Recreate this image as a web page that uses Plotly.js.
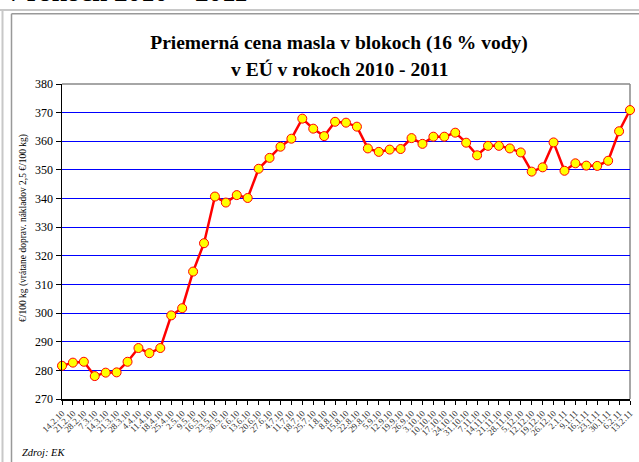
<!DOCTYPE html>
<html>
<head>
<meta charset="utf-8">
<script src="https://cdn.plot.ly/plotly-3.0.1.min.js"></script>
<style>
html,body{margin:0;padding:0;background:#fff;}
#chart{width:639px;height:462px;}
</style>
</head>
<body>
<div id="chart"></div>
<script>
var dates = ["14.2.10","21.2.10","28.2.10","7.3.10","14.3.10","21.3.10","28.3.10","4.4.10","11.4.10","18.4.10","25.4.10","2.5.10","9.5.10","16.5.10","23.5.10","30.5.10","6.6.10","13.6.10","20.6.10","27.6.10","4.7.10","11.7.10","18.7.10","25.7.10","1.8.10","8.8.10","15.8.10","22.8.10","29.8.10","5.9.10","12.9.10","19.9.10","26.9.10","3.10.10","10.10.10","17.10.10","24.10.10","31.10.10","7.11.10","14.11.10","21.11.10","28.11.10","5.12.10","12.12.10","19.12.10","26.12.10","2.1.11","9.1.11","16.1.11","23.1.11","30.1.11","6.2.11","13.2.11"];
var prices = [281.6,282.7,283.0,278.0,279.2,279.3,283.0,287.8,286.0,287.8,299.2,301.7,314.5,324.4,340.7,338.6,341.2,340.2,350.4,354.2,358.1,360.9,367.9,364.4,361.8,366.8,366.5,365.1,357.5,356.3,357.1,357.3,361.1,359.1,361.6,361.6,363.0,359.5,355.1,358.4,358.4,357.5,356.1,349.4,350.9,359.6,349.7,352.3,351.5,351.4,353.2,363.5,370.9];
var yTicks = [270,280,290,300,310,320,330,340,350,360,370,380];

var W = 639, H = 462, L = 62, R = 630, T = 84, B = 399;
function px(x){ return (x - L) / (R - L); }
function py(y){ return (B - y) / (B - T); }

var serif = "'Liberation Serif', 'Times New Roman', serif";

var trace = {
  x: dates,
  y: prices,
  type: "scatter",
  mode: "lines+markers",
  line: {color: "#ff0000", width: 2.5},
  marker: {color: "#ffff00", size: 9, line: {color: "#ff0000", width: 1}},
  cliponaxis: false,
  hoverinfo: "skip"
};

var layout = {
  width: W, height: H,
  margin: {l: L, r: W - R, t: T, b: H - B, pad: 0},
  paper_bgcolor: "#ffffff",
  plot_bgcolor: "#ffffff",
  showlegend: false,
  font: {family: serif, color: "#000"},
  title: {
    text: "<b>Priemerná cena masla v blokoch (16 % vody)</b>",
    font: {family: serif, size: 19.5, color: "#000"},
    xref: "paper", x: px(339), xanchor: "center",
    yref: "container", y: 1 - 42/H, yanchor: "middle"
  },
  xaxis: {
    type: "category",
    range: [0, dates.length - 1],
    autorange: false,
    tickmode: "array",
    tickvals: dates,
    ticktext: dates,
    tickangle: -45,
    tickfont: {family: serif, size: 9, color: "#333"},
    ticks: "outside", ticklen: 4, tickcolor: "#000", tickwidth: 1,
    showline: true, linecolor: "#000", linewidth: 1.5,
    showgrid: false, zeroline: false, fixedrange: true
  },
  yaxis: {
    range: [270, 380],
    autorange: false,
    tickmode: "array",
    tickvals: yTicks,
    ticktext: yTicks.map(String),
    tickfont: {family: serif, size: 12, color: "#000"},
    ticks: "outside", ticklen: 5, tickcolor: "#000", tickwidth: 1,
    showline: true, linecolor: "#000", linewidth: 1.5,
    showgrid: true, gridcolor: "#0000ff", gridwidth: 1,
    zeroline: false, fixedrange: true
  },
  shapes: [
    {type: "line", xref: "paper", yref: "paper", x0: 0, x1: 1, y0: 1, y1: 1, line: {color: "#888", width: 1.5}, layer: "below"},
    {type: "line", xref: "paper", yref: "paper", x0: 1, x1: 1, y0: 0, y1: 1, line: {color: "#888", width: 1.5}, layer: "below"},
    {type: "line", xref: "paper", yref: "paper", x0: px(0), x1: px(W+5), y0: py(10), y1: py(10), line: {color: "#c8c8c8", width: 2}},
    {type: "line", xref: "paper", yref: "paper", x0: px(2.5), x1: px(2.5), y0: py(10), y1: py(H+5), line: {color: "#c8c8c8", width: 2}},
    {type: "line", xref: "paper", yref: "paper", x0: px(11.5), x1: px(W+5), y0: py(13.8), y1: py(13.8), line: {color: "#999", width: 1.5}},
    {type: "line", xref: "paper", yref: "paper", x0: px(11.5), x1: px(11.5), y0: py(13.8), y1: py(H+5), line: {color: "#999", width: 1.5}}
  ],
  annotations: [
    {text: "<b>v EÚ v rokoch 2010 – 2011</b>", xref: "paper", yref: "paper",
     x: px(250), y: py(9.5), xanchor: "right", yanchor: "bottom", showarrow: false,
     font: {family: serif, size: 27, color: "#000"}},
    {text: "<b>v EÚ v rokoch 2010 - 2011</b>", xref: "paper", yref: "paper",
     x: px(339), y: py(70), xanchor: "center", yanchor: "middle", showarrow: false,
     font: {family: serif, size: 19.5, color: "#000"}},
    {text: "€/100 kg (vrátane doprav. nákladov 2,5 €/100 kg)", xref: "paper", yref: "paper",
     x: px(23), y: py(228), xanchor: "center", yanchor: "middle", textangle: -90, showarrow: false,
     font: {family: serif, size: 9.5, color: "#000"}},
    {text: "<i>Zdroj: EK</i>", xref: "paper", yref: "paper",
     x: px(20), y: py(452), xanchor: "left", yanchor: "middle", showarrow: false,
     font: {family: serif, size: 10.5, color: "#000"}}
  ]
};

Plotly.newPlot("chart", [trace], layout, {staticPlot: true, displayModeBar: false});
</script>
</body>
</html>
